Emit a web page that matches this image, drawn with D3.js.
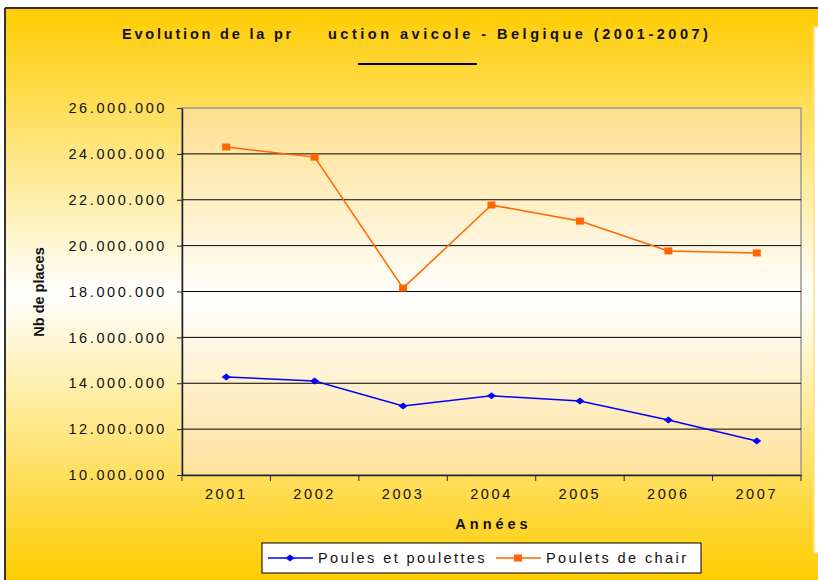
<!DOCTYPE html>
<html>
<head>
<meta charset="utf-8">
<script src="https://cdn.jsdelivr.net/npm/d3@7"></script>
<style>
  body { margin: 0; background: #fff; }
  svg { display: block; font-family: Arial, "Liberation Sans", sans-serif; }
</style>
</head>
<body>
<div id="chart"></div>
<script>
'use strict'

// data
const years = ['2001', '2002', '2003', '2004', '2005', '2006', '2007'];
const poules = [14270000, 14100000, 13010000, 13450000, 13230000, 12400000, 11480000];
const pouletsChair = [24300000, 23860000, 18150000, 21770000, 21070000, 19770000, 19680000];
const yTicks = [10000000, 12000000, 14000000, 16000000, 18000000, 20000000, 22000000, 24000000, 26000000];
const seriesNames = ['Poules et poulettes', 'Poulets de chair'];

const W = 818, H = 580;
const margin = {left: 182, top: 108, right: 17, bottom: 105};
const width = W - margin.left - margin.right;
const height = H - margin.top - margin.bottom;

const svg = d3.select('#chart').append('svg')
  .attr('width', W)
  .attr('height', H);

const defs = svg.append('defs');

// outer background gradient: yellow -> white -> yellow
const outerGrad = defs.append('linearGradient')
  .attr('id', 'outerGrad')
  .attr('x1', 0).attr('y1', 0).attr('x2', 0).attr('y2', 1);
outerGrad.append('stop').attr('offset', '0%').attr('stop-color', '#FFCC00');
outerGrad.append('stop').attr('offset', '50%').attr('stop-color', '#FFFFFF');
outerGrad.append('stop').attr('offset', '100%').attr('stop-color', '#FFCC00');

const plotGrad = defs.append('linearGradient')
  .attr('id', 'plotGrad')
  .attr('x1', 0).attr('y1', 0).attr('x2', 0).attr('y2', 1);
plotGrad.append('stop').attr('offset', '0%').attr('stop-color', '#FFDF8C');
plotGrad.append('stop').attr('offset', '52%').attr('stop-color', '#FFFFFF');
plotGrad.append('stop').attr('offset', '100%').attr('stop-color', '#FFE19A');

// frame
svg.append('rect')
  .attr('x', 5).attr('y', 8)
  .attr('width', W - 5).attr('height', H - 8)
  .attr('fill', 'url(#outerGrad)');
svg.append('line')
  .attr('x1', 5).attr('x2', W).attr('y1', 8).attr('y2', 8)
  .attr('stroke', '#333').attr('stroke-width', 2);
svg.append('line')
  .attr('x1', 5).attr('x2', 5).attr('y1', 8).attr('y2', H)
  .attr('stroke', '#333').attr('stroke-width', 2);

// white panel on the right edge
svg.append('rect')
  .attr('x', 814).attr('y', 27)
  .attr('width', 10).attr('height', 526)
  .attr('fill', '#fff')
  .attr('stroke', '#FFE27A').attr('stroke-width', 1.5);

// title (the hidden letters leave a gap)
svg.append('text')
  .attr('x', 122).attr('y', 39)
  .attr('font-size', 14.5).attr('font-weight', 'bold')
  .attr('letter-spacing', 2.8)
  .attr('fill', '#111')
  .text('Evolution de la pr');
svg.append('text')
  .attr('x', 328).attr('y', 39)
  .attr('font-size', 14.5).attr('font-weight', 'bold')
  .attr('letter-spacing', 3.5)
  .attr('fill', '#111')
  .text('uction avicole - Belgique (2001-2007)');
svg.append('line')
  .attr('x1', 358).attr('x2', 477).attr('y1', 64).attr('y2', 64)
  .attr('stroke', '#000').attr('stroke-width', 2);

const g = svg.append('g')
  .attr('transform', 'translate(' + margin.left + ',' + margin.top + ')');

const x = d3.scaleBand().domain(years).range([0, width]);
const y = d3.scaleLinear().domain([10000000, 26000000]).range([height, 0]);

g.append('rect')
  .attr('width', width).attr('height', height)
  .attr('fill', 'url(#plotGrad)')
  .attr('stroke', '#999').attr('stroke-width', 1.5);

// gridlines
g.selectAll('.grid').data(yTicks.slice(1, -1)).enter()
  .append('line')
    .attr('class', 'grid')
    .attr('x1', 0).attr('x2', width)
    .attr('y1', d => y(d)).attr('y2', d => y(d))
    .attr('stroke', '#000').attr('stroke-width', 1);

const fmt = d => d3.format(',')(d).replace(/,/g, '.');

// y axis
const yAxis = g.append('g')
  .call(d3.axisLeft(y).tickValues(yTicks).tickFormat(fmt).tickSize(5).tickSizeOuter(0));
yAxis.select('.domain').attr('stroke', '#222').attr('stroke-width', 1.5);
yAxis.selectAll('.tick line').attr('stroke', '#222');
yAxis.selectAll('.tick text')
  .attr('x', -15)
  .attr('font-size', 14.5)
  .attr('letter-spacing', 2.6)
  .attr('fill', '#111')
  .attr('font-family', 'Arial, "Liberation Sans", sans-serif');

// x axis with ticks between categories
const xAxis = g.append('g')
  .attr('transform', 'translate(0,' + height + ')')
  .call(d3.axisBottom(x).tickSize(0).tickPadding(14));
xAxis.select('.domain').attr('stroke', '#222').attr('stroke-width', 1.5);
xAxis.selectAll('.tick text')
  .attr('font-size', 14.5)
  .attr('letter-spacing', 2.6)
  .attr('fill', '#111')
  .attr('font-family', 'Arial, "Liberation Sans", sans-serif');
const bounds = years.map(d => x(d)).concat([width]);
xAxis.selectAll('.sep').data(bounds).enter()
  .append('line')
    .attr('class', 'sep')
    .attr('x1', d => d).attr('x2', d => d)
    .attr('y1', 0).attr('y2', 6)
    .attr('stroke', '#222');

// axis titles
svg.append('text')
  .attr('transform', 'translate(44,292) rotate(-90)')
  .attr('text-anchor', 'middle')
  .attr('font-size', 14.5).attr('font-weight', 'bold')
  .attr('fill', '#111')
  .text('Nb de places');
svg.append('text')
  .attr('x', margin.left + width / 2 + 2).attr('y', 529)
  .attr('text-anchor', 'middle')
  .attr('font-size', 14.5).attr('font-weight', 'bold')
  .attr('letter-spacing', 4)
  .attr('fill', '#111')
  .text('Années');

// lines
const line = d3.line()
  .x((d, i) => x(years[i]) + x.bandwidth() / 2)
  .y(d => y(d));

g.append('path').datum(pouletsChair)
  .attr('d', line)
  .attr('fill', 'none')
  .attr('stroke', '#FF6600').attr('stroke-width', 1.5);
g.selectAll('.sq').data(pouletsChair).enter()
  .append('rect')
    .attr('class', 'sq')
    .attr('x', (d, i) => x(years[i]) + x.bandwidth() / 2 - 4)
    .attr('y', d => y(d) - 3.5)
    .attr('width', 8).attr('height', 7)
    .attr('fill', '#FF6600');

g.append('path').datum(poules)
  .attr('d', line)
  .attr('fill', 'none')
  .attr('stroke', '#0000FF').attr('stroke-width', 1.5);
const diamond = 'M-4.5,0L0,-3.5L4.5,0L0,3.5Z';
g.selectAll('.dm').data(poules).enter()
  .append('path')
    .attr('class', 'dm')
    .attr('d', diamond)
    .attr('transform', (d, i) => 'translate(' + (x(years[i]) + x.bandwidth() / 2) + ',' + y(d) + ')')
    .attr('fill', '#0000FF');

// legend
const legend = svg.append('g').attr('transform', 'translate(262,543)');
legend.append('rect')
  .attr('width', 439).attr('height', 30)
  .attr('fill', '#fff').attr('stroke', '#000').attr('stroke-width', 1);

const legendItems = [
  {name: seriesNames[0], color: '#0000FF', x0: 6, shape: 'diamond'},
  {name: seriesNames[1], color: '#FF6600', x0: 234, shape: 'square'}
];
legendItems.forEach(it => {
  legend.append('line')
    .attr('x1', it.x0).attr('x2', it.x0 + 45)
    .attr('y1', 15).attr('y2', 15)
    .attr('stroke', it.color).attr('stroke-width', 1.5);
  if (it.shape === 'diamond') {
    legend.append('path')
      .attr('d', diamond)
      .attr('transform', 'translate(' + (it.x0 + 22) + ',15)')
      .attr('fill', it.color);
  } else {
    legend.append('rect')
      .attr('x', it.x0 + 18).attr('y', 11.5)
      .attr('width', 8).attr('height', 7)
      .attr('fill', it.color);
  }
  legend.append('text')
    .attr('x', it.x0 + 50).attr('y', 20)
    .attr('font-size', 14.5)
    .attr('letter-spacing', 2.4)
    .attr('fill', '#111')
    .text(it.name);
});
</script>
</body>
</html>
